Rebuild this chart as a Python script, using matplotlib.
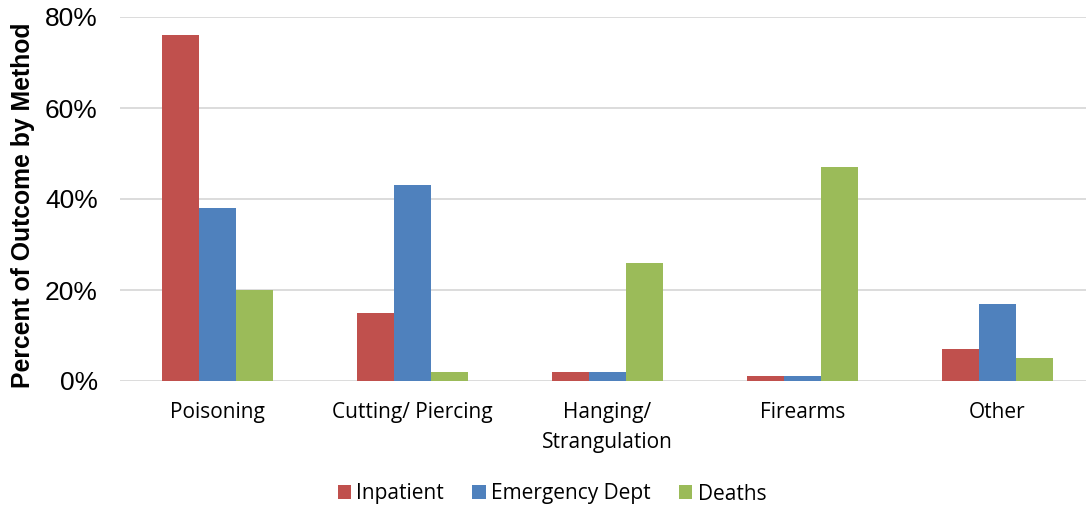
import matplotlib.pyplot as plt
from matplotlib.ticker import PercentFormatter
import numpy as np

# Data
methods = ['Poisoning', 'Cutting/ Piercing', 'Hanging/\nStrangulation', 'Firearms', 'Other']
series = ['Inpatient', 'Emergency Dept', 'Deaths']
inpatient = [76, 15, 2, 1, 7]
emergency = [38, 43, 2, 1, 17]
deaths = [20, 2, 26, 47, 5]
colors = ['#C0504D', '#4F81BD', '#9BBB59']

fig = plt.figure(figsize=(10.86, 5.08), dpi=100)
ax = fig.add_axes([120 / 1086, 1 - 381 / 508, 975 / 1086, 364 / 508])

x = np.arange(len(methods))
bar_width = 0.19
for i, (name, vals) in enumerate(zip(series, [inpatient, emergency, deaths])):
    ax.bar(x + (i - 1) * bar_width, vals, width=bar_width, color=colors[i],
           label=name, zorder=3)

ax.set_xlim(-0.5, len(methods) - 0.5)
ax.set_ylim(0, 80)
ax.set_yticks([0, 20, 40, 60, 80])
ax.yaxis.set_major_formatter(PercentFormatter(decimals=0))
ax.grid(axis='y', color='#D9D9D9', linewidth=1.3, zorder=0)
for s in ['top', 'right', 'left', 'bottom']:
    ax.spines[s].set_visible(False)
ax.tick_params(axis='both', length=0)
ax.tick_params(axis='y', pad=16)
ax.tick_params(axis='x', pad=15)

ax.set_xticks(x)
ax.set_xticklabels(methods, fontfamily='Open Sans', fontsize=15, linespacing=1.55)
for lbl in ax.get_yticklabels():
    lbl.set_fontfamily('Liberation Sans')
    lbl.set_fontsize(19)

ax.set_ylabel('Percent of Outcome by Method', fontfamily='Liberation Sans',
              fontsize=17.8, fontweight='bold')
ax.yaxis.label.set_va('center')
ax.yaxis.set_label_coords(23 / 1086, 1 - 205 / 508, transform=fig.transFigure)

fig.legend(loc='center', bbox_to_anchor=(0.5 + 9 / 1086, 1 - 494 / 508), ncol=3,
           frameon=False, prop={'family': 'Open Sans', 'size': 15}, handlelength=0.65,
           handleheight=0.65, handletextpad=0.25, columnspacing=1.35)

fig.savefig('out.png', dpi=100)
